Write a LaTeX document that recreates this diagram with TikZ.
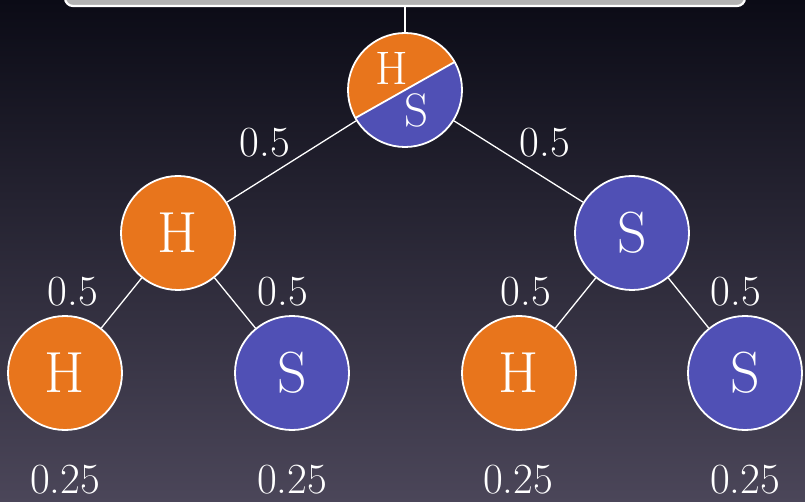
\documentclass[tikz,border=0pt]{standalone}
\usepackage{fontspec}
\definecolor{myorange}{HTML}{E8751C}
\definecolor{myblue}{HTML}{5050B5}
\definecolor{boxgray}{HTML}{B3B3B3}
\definecolor{bgtop}{HTML}{0B0B16}
\definecolor{bgmid}{HTML}{25233A}
\definecolor{bgbot}{HTML}{4B4659}
\begin{document}
\begin{tikzpicture}[x=1pt,y=-1pt,
  leaf/.style={circle, draw=white, line width=1.8pt, minimum size=114pt, inner sep=0pt,
    text=white, font=\fontsize{58}{60}\selectfont},
  hnode/.style={leaf, fill=myorange},
  snode/.style={leaf, fill=myblue},
  edge/.style={draw=white, line width=1.3pt},
  prob/.style={text=white, inner sep=0pt, font=\fontsize{43}{45}\selectfont},
  rootletter/.style={text=white, inner sep=0pt, font=\fontsize{47}{49}\selectfont}]
\clip (0,0) rectangle (805,502);
\shade[top color=bgtop, middle color=bgmid, bottom color=bgbot] (0,0) rectangle (805,502);
% top box
\node[draw=white, fill=boxgray, line width=2.2pt, rounded corners=8pt,
  minimum width=680pt, minimum height=50pt, inner sep=0pt] (box) at (405,-19) {};
% root split circle
\begin{scope}
  \clip (405,90) circle (57pt);
  \fill[myblue] (405,90) circle (58pt);
  \fill[myorange] (318,139) -- (492,41) -- (443,-46) -- (269,52) -- cycle;
\end{scope}
\node[circle, draw=white, line width=1.8pt, minimum size=114pt, inner sep=0pt] (root) at (405,90) {};
\draw[white, line width=1.8pt] (355.4,118) -- (454.6,62);
\node[rootletter] (rootH) at (392,68) {H};
\node[rootletter] (rootS) at (417,110) {S};
% level 1
\node[hnode] (h1) at (178,233) {H};
\node[snode] (s1) at (632,233) {S};
% level 2
\node[hnode] (hh) at (65,373) {H};
\node[snode] (hs) at (292,373) {S};
\node[hnode] (sh) at (519,373) {H};
\node[snode] (ss) at (745,373) {S};
% edges
\draw[edge] (box.south -| root) -- (root);
\draw[edge] (root) -- (h1);
\draw[edge] (root) -- (s1);
\draw[edge] (h1) -- (hh);
\draw[edge] (h1) -- (hs);
\draw[edge] (s1) -- (sh);
\draw[edge] (s1) -- (ss);
% probabilities
\node[prob] (p1) at (265,143) {0.5};
\node[prob] (p2) at (545,143) {0.5};
\node[prob] (p3) at (73,292) {0.5};
\node[prob] (p4) at (283,292) {0.5};
\node[prob] (p5) at (526,292) {0.5};
\node[prob] (p6) at (736,292) {0.5};
\node[prob] (q1) at (65,480) {0.25};
\node[prob] (q2) at (292,480) {0.25};
\node[prob] (q3) at (518,480) {0.25};
\node[prob] (q4) at (745,480) {0.25};
\end{tikzpicture}
\end{document}
